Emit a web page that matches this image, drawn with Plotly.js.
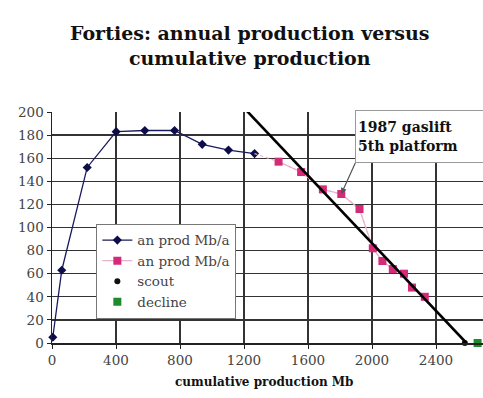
<!DOCTYPE html>
<html>
<head>
<meta charset="utf-8">
<script src="https://cdn.plot.ly/plotly-3.0.1.min.js"></script>
<style>
html,body{margin:0;padding:0;overflow:hidden;background:#fff;}
#chart{width:521px;height:398px;}
</style>
</head>
<body>
<div id="chart"></div>
<script>
// Data
const blueX = [5, 61, 220, 401, 580, 766, 939, 1103, 1266];
const blueY = [5, 63, 152, 183, 184, 184, 172, 167, 164];
const pinkX = [1416, 1557, 1693, 1808, 1922, 2005, 2065, 2130, 2200, 2250, 2330];
const pinkY = [157, 148, 133, 129, 116, 82, 71, 64, 60, 48, 40];
const scoutX = [2580];
const scoutY = [0];
const declineX = [2660];
const declineY = [0];
const trendX = [1190, 2590];
const trendY = [205, 0];
const xTicks = [0, 400, 800, 1200, 1600, 2000, 2400, 2800];
const yTicks = [0, 20, 40, 60, 80, 100, 120, 140, 160, 180, 200];
const seriesNames = ["an prod Mb/a", "an prod Mb/a", "scout", "decline"];

const serif = "DejaVu Serif, serif";

const traces = [
  {x: blueX, y: blueY, name: seriesNames[0], type: "scatter", mode: "lines+markers",
   line: {color: "#1a1a5e", width: 1.3}, marker: {symbol: "diamond", size: 7, color: "#0d0d4a"},
   cliponaxis: false},
  {x: [blueX[blueX.length-1]].concat(pinkX), y: [blueY[blueY.length-1]].concat(pinkY), type: "scatter", mode: "lines",
   line: {color: "#eab0cc", width: 1.2, dash: "dot"}, showlegend: false, hoverinfo: "skip"},
  {x: pinkX, y: pinkY, name: seriesNames[1], type: "scatter", mode: "lines+markers",
   line: {color: "#eab0cc", width: 1.2}, marker: {symbol: "square", size: 8, color: "#d42a78"},
   cliponaxis: false},
  {x: scoutX, y: scoutY, name: seriesNames[2], type: "scatter", mode: "markers",
   marker: {symbol: "circle", size: 6, color: "#111"}, cliponaxis: false},
  {x: declineX, y: declineY, name: seriesNames[3], type: "scatter", mode: "markers",
   marker: {symbol: "square", size: 8, color: "#1f8a2a"}, cliponaxis: false},
  {x: trendX, y: trendY, type: "scatter", mode: "lines", showlegend: false,
   line: {color: "#000", width: 2.6}, hoverinfo: "skip"}
];

const layout = {
  width: 521, height: 398,
  margin: {l: 52, r: 21, t: 112, b: 55},
  paper_bgcolor: "#fff", plot_bgcolor: "#fff",
  font: {family: serif, size: 13, color: "#222"},
  xaxis: {range: [0, 2800], tickvals: xTicks, ticktext: xTicks.map(String),
          showgrid: true, gridcolor: "#333", gridwidth: 1.3,
          zeroline: false, showline: true, linecolor: "#222", linewidth: 1.5,
          ticks: "outside", ticklen: 4, tickcolor: "#222",
          tickfont: {family: serif, size: 13.5, color: "#444"}},
  yaxis: {range: [0, 200], tickvals: yTicks, ticktext: yTicks.map(String),
          showgrid: true, gridcolor: "#333", gridwidth: 1.3,
          zeroline: false, showline: true, linecolor: "#222", linewidth: 1.5,
          ticks: "outside", ticklen: 4, tickcolor: "#222",
          tickfont: {family: serif, size: 13.5, color: "#444"}},
  legend: {x: 0.099, y: 0.516, xanchor: "left", yanchor: "top",
           bgcolor: "#fff", bordercolor: "#777", borderwidth: 1,
           font: {family: serif, size: 13.5, color: "#444"}, tracegroupgap: 0},
  showlegend: true,
  annotations: [
    {xref: "paper", yref: "paper", x: 0.442, y: 1.40, xanchor: "center", yanchor: "top",
     text: "<b>Forties: annual production versus<br>cumulative production</b>", showarrow: false,
     font: {family: serif, size: 19, color: "#111"}},
    {x: pinkX[3], y: pinkY[3], xref: "x", yref: "y",
     text: "<b>1987 gaslift<br>5th platform</b>", showarrow: true,
     ax: 14, ay: -31, xanchor: "left", yanchor: "bottom",
     arrowhead: 2, arrowsize: 1, arrowwidth: 1.2, arrowcolor: "#555",
     align: "left", width: 140, height: 47, borderpad: 2,
     bgcolor: "#fff", bordercolor: "#999", borderwidth: 1,
     font: {family: serif, size: 14, color: "#111"}},
    {xref: "paper", yref: "paper", x: 0.474, y: -0.17, yanchor: "middle",
     text: "<b>cumulative production Mb</b>", showarrow: false,
     font: {family: serif, size: 12, color: "#111"}}
  ]
};

Plotly.newPlot("chart", traces, layout, {displayModeBar: false, staticPlot: true});
</script>
</body>
</html>
